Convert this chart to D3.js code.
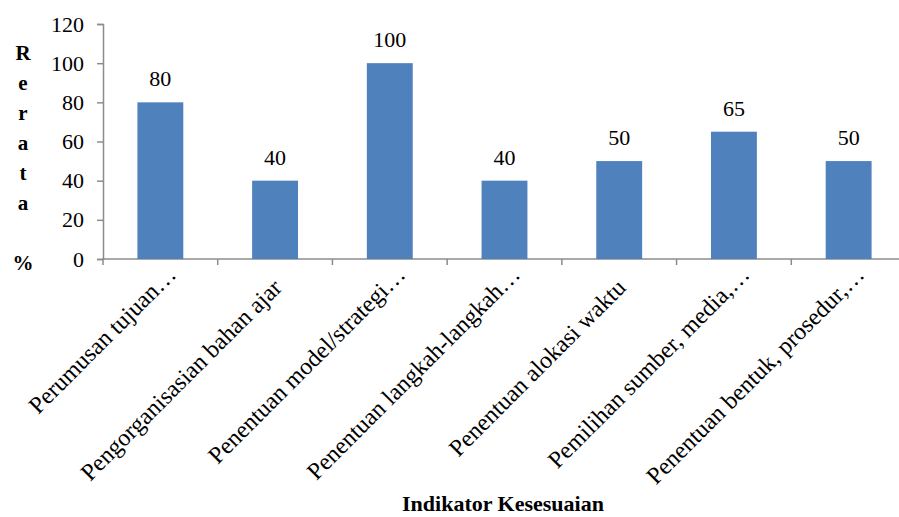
<!DOCTYPE html>
<html>
<head>
<meta charset="utf-8">
<script src="https://cdn.jsdelivr.net/npm/d3@7"></script>
<style>
  body { margin: 0; background: #fff; }
  svg { display: block; font-family: "Liberation Serif", "Times New Roman", serif; }
</style>
</head>
<body>
<div id="chart"></div>
<script>
// Chart data
var categories = [
    "Perumusan tujuan\u2026",
    "Pengorganisasian bahan ajar",
    "Penentuan model/strategi\u2026",
    "Penentuan langkah-langkah\u2026",
    "Penentuan alokasi waktu",
    "Pemilihan sumber, media,\u2026",
    "Penentuan bentuk, prosedur,\u2026"
];
var values = [80, 40, 100, 40, 50, 65, 50];
var yTicks = [0, 20, 40, 60, 80, 100, 120];
var yTitle = ["R", "e", "r", "a", "t", "a", "", "%"];
var xTitle = "Indikator Kesesuaian";

var width = 899, height = 517;
var svg = d3.select("#chart").append("svg")
    .attr("width", width)
    .attr("height", height);

// Scales
var x = d3.scaleBand()
    .domain(categories)
    .range([103, 906])
    .paddingInner(0.6)
    .paddingOuter(0.3);

var y = d3.scaleLinear()
    .domain([0, 120])
    .range([259, 24]);

// Y axis
var yAxis = svg.append("g")
    .attr("transform", "translate(103,0)")
    .call(d3.axisLeft(y).tickValues(yTicks).tickSize(6).tickPadding(13));
yAxis.selectAll("path, line").attr("stroke", "#8c8c8c").attr("stroke-width", 1.5);
yAxis.selectAll("text")
    .attr("font-family", "Liberation Serif, serif")
    .attr("font-size", "22px")
    .attr("fill", "#000");

// X axis line with ticks at band boundaries
var xg = svg.append("g");
xg.append("line")
    .attr("x1", 102).attr("x2", 906)
    .attr("y1", y(0)).attr("y2", y(0))
    .attr("stroke", "#8c8c8c").attr("stroke-width", 1.5);
var step = x.step();
var edges = d3.range(categories.length + 1).map(function(i){ return 103 + i * step; });
xg.selectAll("line.tick")
    .data(edges)
    .enter().append("line")
    .attr("class", "tick")
    .attr("x1", function(d){ return d; })
    .attr("x2", function(d){ return d; })
    .attr("y1", y(0)).attr("y2", y(0) + 6)
    .attr("stroke", "#8c8c8c").attr("stroke-width", 1.5);

// Bars
svg.append("g").selectAll("rect")
    .data(values)
    .enter().append("rect")
    .attr("x", function(d, i){ return x(categories[i]); })
    .attr("y", function(d){ return y(d); })
    .attr("width", x.bandwidth())
    .attr("height", function(d){ return y(0) - y(d); })
    .attr("fill", "#4f81bd");

// Value labels
svg.append("g").selectAll("text")
    .data(values)
    .enter().append("text")
    .attr("x", function(d, i){ return x(categories[i]) + x.bandwidth() / 2; })
    .attr("y", function(d){ return y(d) - 16; })
    .attr("text-anchor", "middle")
    .attr("font-size", "22px")
    .attr("fill", "#000")
    .text(function(d){ return d; });

// Rotated category labels
svg.append("g").selectAll("text")
    .data(categories)
    .enter().append("text")
    .attr("transform", function(d){
        var cx = x(d) + x.bandwidth() / 2;
        var trunc = d.indexOf("\u2026") >= 0;
        return "translate(" + (cx + (trunc ? 17 : 8)) + "," + (trunc ? 276 : 289) + ") rotate(-45)";
    })
    .attr("text-anchor", "end")
    .attr("font-size", "24px")
    .attr("fill", "#000")
    .text(function(d){ return d; });

// Y title, stacked letters
svg.append("g").selectAll("text")
    .data(yTitle)
    .enter().append("text")
    .attr("x", 23)
    .attr("y", function(d, i){ return 60 + i * 30; })
    .attr("text-anchor", "middle")
    .attr("font-size", "21px")
    .attr("font-weight", "bold")
    .attr("fill", "#000")
    .text(function(d){ return d; });

// X title
svg.append("text")
    .attr("x", 503)
    .attr("y", 511)
    .attr("text-anchor", "middle")
    .attr("font-size", "22px")
    .attr("font-weight", "bold")
    .attr("fill", "#000")
    .text(xTitle);
</script>
</body>
</html>
